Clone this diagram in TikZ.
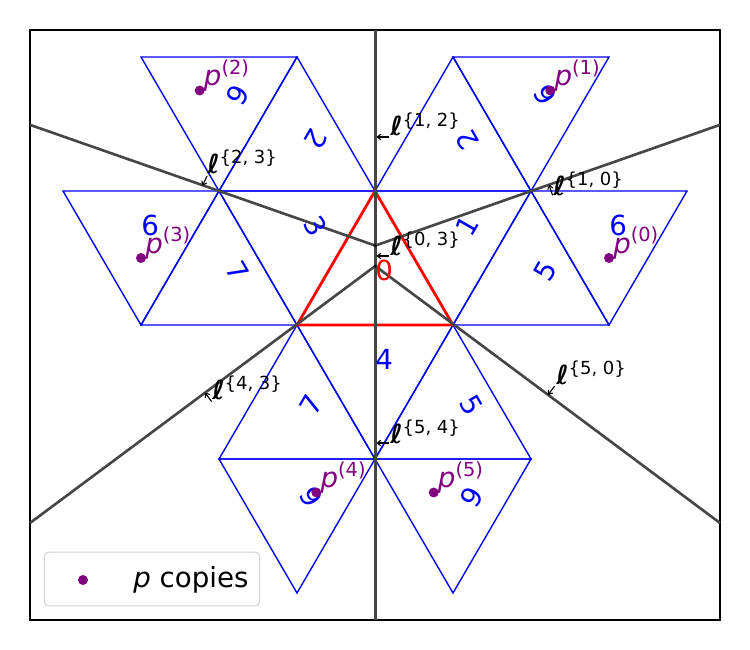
\documentclass[tikz,border=0pt]{standalone}
\usepackage{fontspec}
\setmainfont{DejaVu Sans}
\usetikzlibrary{arrows.meta}
\definecolor{ppurple}{RGB}{128,0,128}
\definecolor{vgray}{RGB}{70,70,70}
\definecolor{legframe}{RGB}{210,210,210}
\begin{document}
\begin{tikzpicture}[x=0.254mm,y=-0.254mm,
  tri/.style={draw=blue, line width=1pt},
  redtri/.style={draw=red, line width=2pt, line join=miter},
  vline/.style={draw=vgray, line width=1.9pt},
  dig/.style={text=blue, font=\fontsize{20}{24}\selectfont, inner sep=0pt, text height=15.2pt, text depth=4.7pt},
  pdot/.style={circle, fill=ppurple, inner sep=0pt, minimum size=7.2pt},
  vdot/.style={circle, fill=black, inner sep=0pt, minimum size=2.4pt},
  plab/.style={text=ppurple, font=\fontsize{20}{24}\selectfont, inner sep=0pt, anchor=base west},
  llab/.style={font=\fontsize{19}{22}\selectfont, inner sep=0pt, anchor=base west},
  larr/.style={-{Straight Barb[length=2.5pt,width=4pt]}, line width=0.8pt, black},
  legbox/.style={draw=legframe, fill=white, rounded corners=3pt, line width=0.8pt, inner sep=0pt}
]
\useasboundingbox (0,0) rectangle (750,650);
% grid vertices
\coordinate (A1) at (141,57);  \coordinate (A2) at (297,57);
\coordinate (A3) at (453,57);  \coordinate (A4) at (609,57);
\coordinate (B0) at (63,191);  \coordinate (B1) at (219,191);
\coordinate (B2) at (375,191); \coordinate (B3) at (531,191);
\coordinate (B4) at (687,191);
\coordinate (C1) at (141,325); \coordinate (C2) at (297,325);
\coordinate (C3) at (453,325); \coordinate (C4) at (609,325);
\coordinate (D1) at (219,459); \coordinate (D2) at (375,459);
\coordinate (D3) at (531,459);
\coordinate (E1) at (297,593); \coordinate (E2) at (453,593);
% frame
\draw[line width=0.8pt] (30,30) rectangle (720,620);
% blue triangles
\draw[tri] (A1)--(A2)--(B1)--cycle;
\draw[tri] (A2)--(B1)--(B2)--cycle;
\draw[tri] (A3)--(B2)--(B3)--cycle;
\draw[tri] (A3)--(A4)--(B3)--cycle;
\draw[tri] (B0)--(B1)--(C1)--cycle;
\draw[tri] (B1)--(C1)--(C2)--cycle;
\draw[tri] (B1)--(B2)--(C2)--cycle;
\draw[tri] (B2)--(B3)--(C3)--cycle;
\draw[tri] (B3)--(C3)--(C4)--cycle;
\draw[tri] (B3)--(B4)--(C4)--cycle;
\draw[tri] (C2)--(C3)--(D2)--cycle;
\draw[tri] (C2)--(D1)--(D2)--cycle;
\draw[tri] (D1)--(D2)--(E1)--cycle;
\draw[tri] (C3)--(D2)--(D3)--cycle;
\draw[tri] (D2)--(D3)--(E2)--cycle;
% red triangle
\draw[redtri] (B2)--(C2)--(C3)--cycle;
% bisector lines
\coordinate (VT) at (375.3,30);  \coordinate (VBm) at (375.3,620);
\coordinate (vA) at (375.3,245.6); \coordinate (vB) at (375.3,266);
\coordinate (LA) at (30,124.85); \coordinate (RB) at (720,124.85);
\coordinate (LD) at (30,523);    \coordinate (RC) at (720,523);
\draw[vline] (VT) -- (VBm);
\draw[vline] (LA) -- (vA) -- (RB);
\draw[vline] (LD) -- (vB) -- (RC);
\node[vdot] (dA) at (vA) {};
\node[vdot] (dB) at (vB) {};
% triangle labels
\node[dig, text=red, anchor=base west] (n0) at (375,280.33) {0};
\node[dig, anchor=base west] (n4) at (375,369.67) {4};
\node[dig, anchor=base west] (n6a) at (609,235.67) {6};
\node[dig, anchor=base west] (n6d) at (141,235.67) {6};
\node[dig, rotate=60] (n1) at (469.5,227.6) {1};
\node[dig, rotate=-60] (n3) at (313.5,227.6) {3};
\node[dig, rotate=60] (n5a) at (547.5,272.2) {5};
\node[dig, rotate=-60] (n7a) at (235.5,272.2) {7};
\node[dig, rotate=120] (n2a) at (469.5,138.2) {2};
\node[dig, rotate=-120] (n2b) at (313.5,138.2) {2};
\node[dig, rotate=120] (n6b) at (547.5,93.6) {6};
\node[dig, rotate=-120] (n6c) at (235.5,93.6) {6};
\node[dig, rotate=60] (n7b) at (313.5,406.2) {7};
\node[dig, rotate=-60] (n5b) at (469.5,406.2) {5};
\node[dig, rotate=120] (n6e) at (313.5,495.6) {6};
\node[dig, rotate=-120] (n6f) at (469.5,495.6) {6};
% p copies
\node[pdot] (p0) at (609,258) {};
\node[pdot] (p1) at (550.3,90.5) {};
\node[pdot] (p2) at (199.7,90.5) {};
\node[pdot] (p3) at (141,258) {};
\node[pdot] (p4) at (316.3,492.5) {};
\node[pdot] (p5) at (433.7,492.5) {};
\node[plab] (pl0) at (613,253) {{\itshape p}\raisebox{8pt}{\fontsize{14}{16}\selectfont(0)}};
\node[plab] (pl1) at (554.3,85.5) {{\itshape p}\raisebox{8pt}{\fontsize{14}{16}\selectfont(1)}};
\node[plab] (pl2) at (203.7,85.5) {{\itshape p}\raisebox{8pt}{\fontsize{14}{16}\selectfont(2)}};
\node[plab] (pl3) at (145,253) {{\itshape p}\raisebox{8pt}{\fontsize{14}{16}\selectfont(3)}};
\node[plab] (pl4) at (320.3,487.5) {{\itshape p}\raisebox{8pt}{\fontsize{14}{16}\selectfont(4)}};
\node[plab] (pl5) at (437.7,487.5) {{\itshape p}\raisebox{8pt}{\fontsize{14}{16}\selectfont(5)}};
% line labels with arrows
\coordinate (t12) at (389,137);   \coordinate (h12) at (376.5,137);
\coordinate (t23) at (207,176);   \coordinate (h23) at (202.5,185.8);
\coordinate (t10) at (552.6,195.3); \coordinate (h10) at (549,184.7);
\coordinate (t03) at (389,256);   \coordinate (h03) at (376.5,256);
\coordinate (t43) at (211.6,401.5); \coordinate (h43) at (205,392.7);
\coordinate (t50) at (554.6,386.1); \coordinate (h50) at (548,394.9);
\coordinate (t54) at (389,443);   \coordinate (h54) at (376.5,443);
\draw[larr] (t12) -- (h12);
\draw[larr] (t23) -- (h23);
\draw[larr] (t10) -- (h10);
\draw[larr] (t03) -- (h03);
\draw[larr] (t43) -- (h43);
\draw[larr] (t50) -- (h50);
\draw[larr] (t54) -- (h54);
\node[llab] (l12) at (390,136) {{\bfseries\itshape ℓ}\raisebox{7pt}{\fontsize{13}{15}\selectfont\{1, 2\}}};
\node[llab] (l23) at (207,173) {{\bfseries\itshape ℓ}\raisebox{7pt}{\fontsize{13}{15}\selectfont\{2, 3\}}};
\node[llab] (l10) at (553,195) {{\bfseries\itshape ℓ}\raisebox{7pt}{\fontsize{13}{15}\selectfont\{1, 0\}}};
\node[llab] (l03) at (390,255) {{\bfseries\itshape ℓ}\raisebox{7pt}{\fontsize{13}{15}\selectfont\{0, 3\}}};
\node[llab] (l43) at (212,399) {{\bfseries\itshape ℓ}\raisebox{7pt}{\fontsize{13}{15}\selectfont\{4, 3\}}};
\node[llab] (l50) at (556,384) {{\bfseries\itshape ℓ}\raisebox{7pt}{\fontsize{13}{15}\selectfont\{5, 0\}}};
\node[llab] (l54) at (390,443) {{\bfseries\itshape ℓ}\raisebox{7pt}{\fontsize{13}{15}\selectfont\{5, 4\}}};
% legend
\node[legbox, minimum width=155.5pt, minimum height=38.9pt] (leg) at (152,579) {};
\node[pdot] (legdot) at (83,580) {};
\node[font=\fontsize{20}{24}\selectfont, inner sep=0pt, anchor=base west] (legtxt) at (133,587) {{\itshape p} copies};
\end{tikzpicture}
\end{document}
